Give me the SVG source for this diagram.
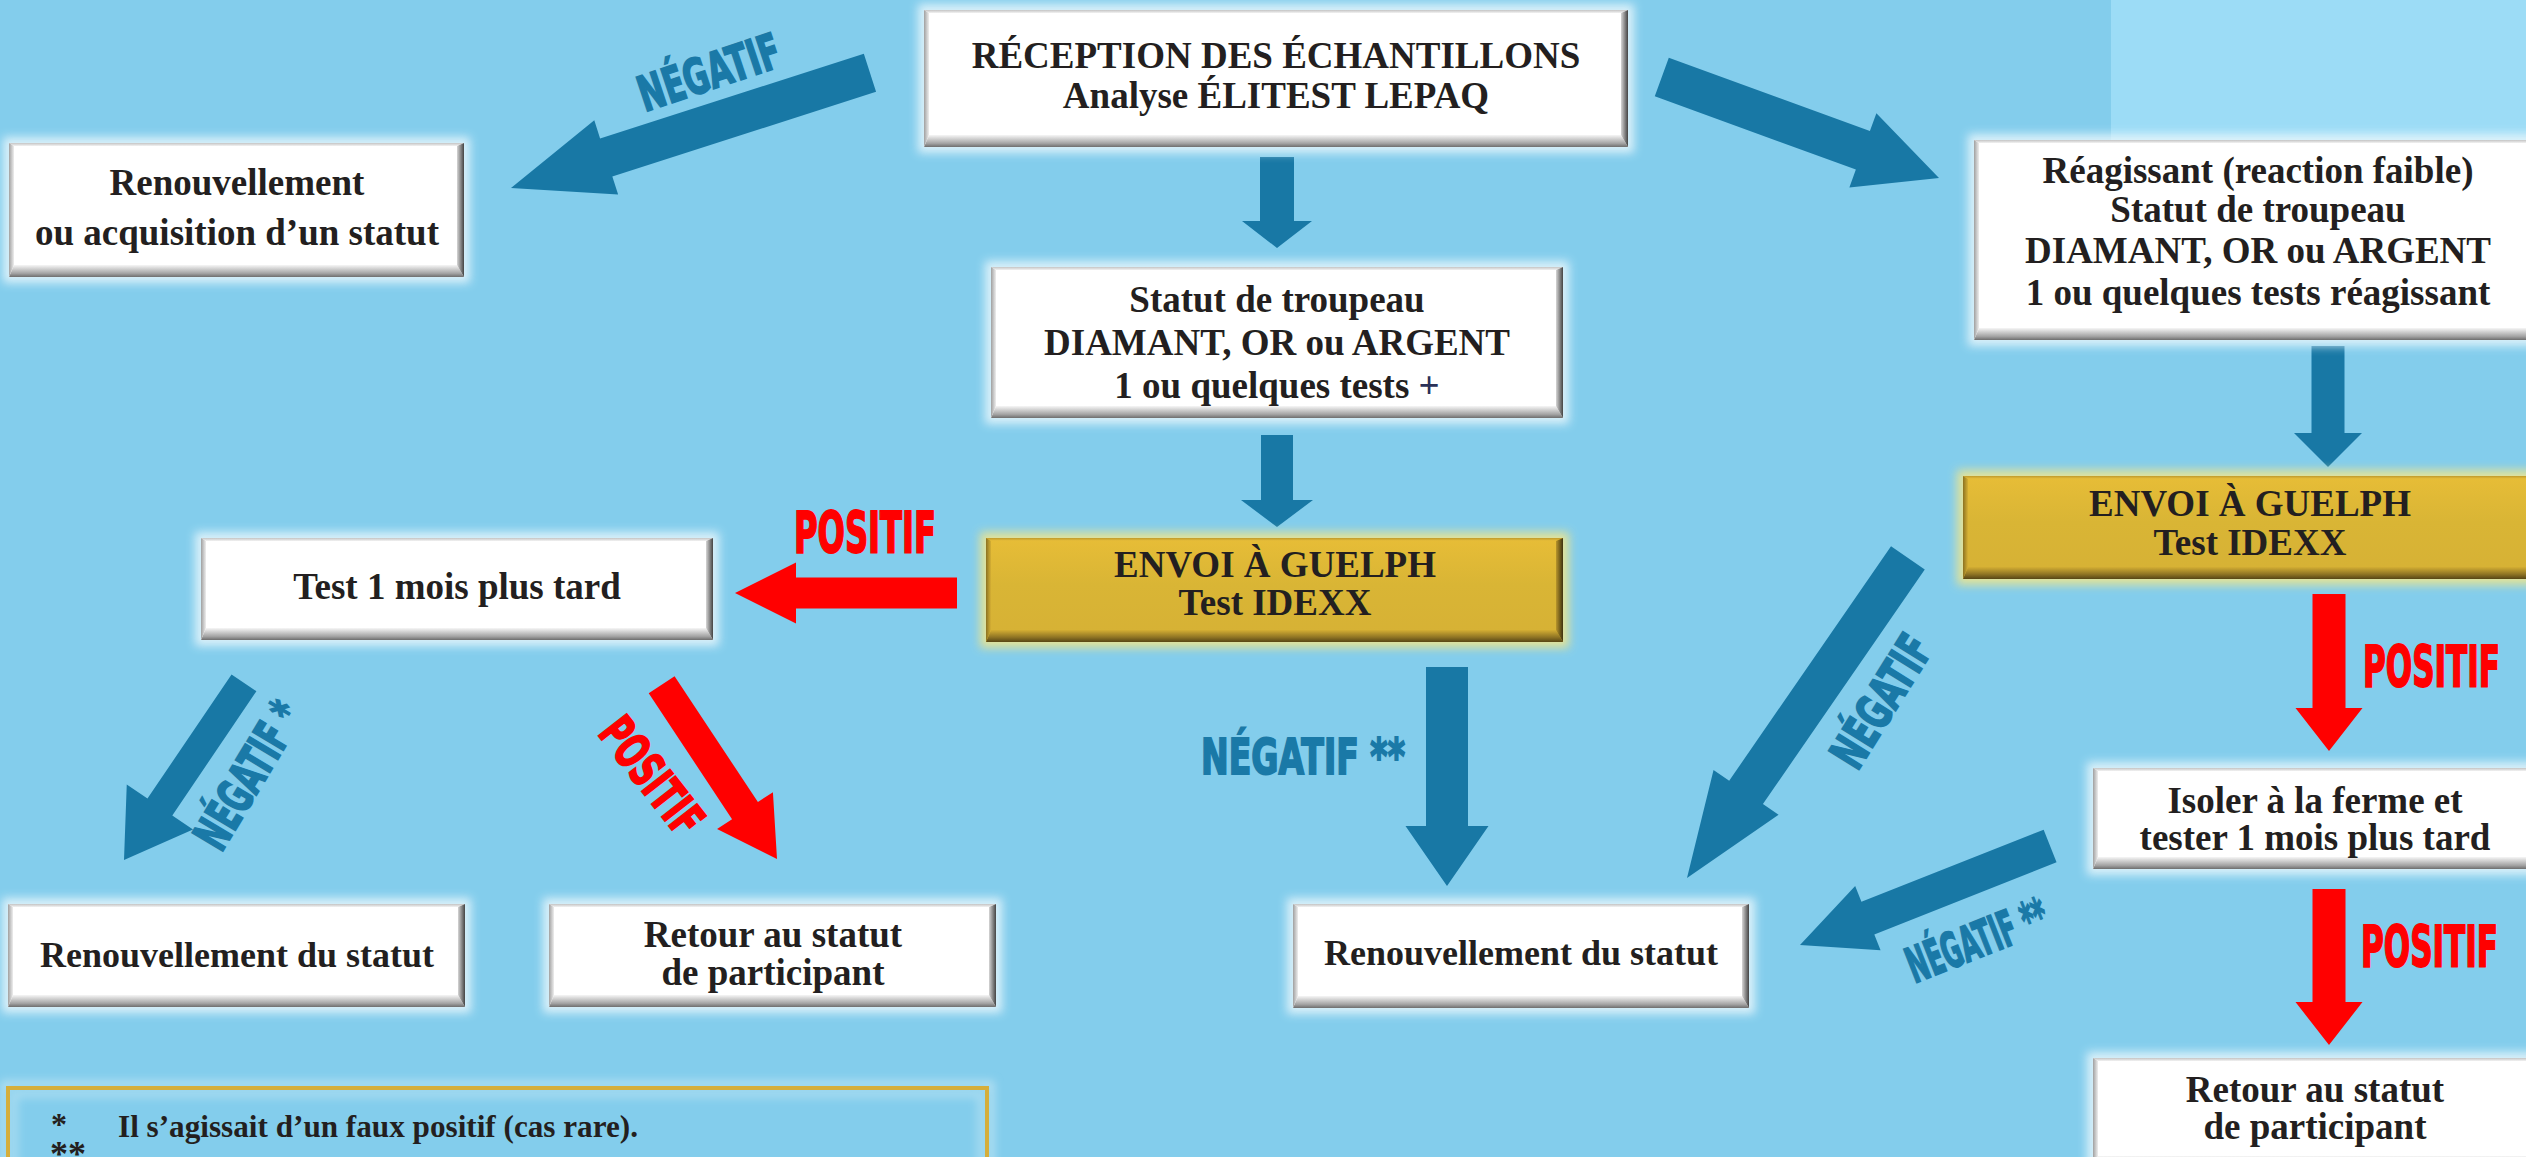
<svg xmlns="http://www.w3.org/2000/svg" width="2526" height="1157" viewBox="0 0 2526 1157">
<defs>
<style>
.t{font-family:"Liberation Serif","Times New Roman",serif;font-weight:bold;font-size:37px;fill:#231f20;text-anchor:middle}
.lbl{font-family:"Liberation Sans Narrow","DejaVu Sans Condensed","Liberation Sans",sans-serif;font-weight:bold;text-anchor:middle}
.neg{fill:#1a79a7;stroke:#1a79a7;stroke-width:1.8}
.pos{fill:#ff0000;stroke:#ff0000;stroke-width:1.8}
.blue{fill:#1878a5}
.red{fill:#ff0000}
.wb{fill:#ffffff}
.gb{fill:url(#goldBase)}
.glw{fill:#eaf7fc;opacity:.85;filter:url(#glow)}
.glg{fill:#eee58e;opacity:.9;filter:url(#glow)}
.bt{fill:url(#wTop)}.bb{fill:url(#wBot)}.bl{fill:url(#wLeft)}.br{fill:url(#wRight)}
.gt{fill:url(#gTop)}.gbt{fill:url(#gBot)}.gl{fill:url(#gLeft)}.gr{fill:url(#gRight)}
.fn{font-family:"Liberation Serif","Times New Roman",serif;font-weight:bold;fill:#231f20}
</style>
<filter id="glow" x="-10%" y="-30%" width="120%" height="160%"><feGaussianBlur stdDeviation="5"/></filter>
<filter id="soft" x="-5%" y="-20%" width="110%" height="140%"><feGaussianBlur stdDeviation="4"/></filter>
<linearGradient id="wTop" x1="0" y1="0" x2="0" y2="1"><stop offset="0" stop-color="#c4c4c4"/><stop offset="1" stop-color="#f2f2f2"/></linearGradient>
<linearGradient id="wBot" x1="0" y1="0" x2="0" y2="1"><stop offset="0" stop-color="#f6f6f6"/><stop offset=".7" stop-color="#a3a3a3"/><stop offset="1" stop-color="#6e6e6e"/></linearGradient>
<linearGradient id="wLeft" x1="0" y1="0" x2="1" y2="0"><stop offset="0" stop-color="#a0a0a0"/><stop offset="1" stop-color="#eeeeee"/></linearGradient>
<linearGradient id="wRight" x1="0" y1="0" x2="1" y2="0"><stop offset="0" stop-color="#d6d6d6"/><stop offset="1" stop-color="#444444"/></linearGradient>
<linearGradient id="goldBase" x1="0" y1="0" x2="0" y2="1"><stop offset="0" stop-color="#e7bd37"/><stop offset=".45" stop-color="#d9b535"/><stop offset="1" stop-color="#d6b135"/></linearGradient>
<linearGradient id="gTop" x1="0" y1="0" x2="0" y2="1"><stop offset="0" stop-color="#c09a2c"/><stop offset="1" stop-color="#e9c03a"/></linearGradient>
<linearGradient id="gBot" x1="0" y1="0" x2="0" y2="1"><stop offset="0" stop-color="#d4ae33"/><stop offset=".6" stop-color="#8f7424"/><stop offset="1" stop-color="#574615"/></linearGradient>
<linearGradient id="gLeft" x1="0" y1="0" x2="1" y2="0"><stop offset="0" stop-color="#8c7221"/><stop offset="1" stop-color="#d6b034"/></linearGradient>
<linearGradient id="gRight" x1="0" y1="0" x2="1" y2="0"><stop offset="0" stop-color="#b8952b"/><stop offset="1" stop-color="#3e3210"/></linearGradient>
</defs>

<rect x="0" y="0" width="2526" height="1157" fill="#83cdec"/>
<rect x="2111" y="0" width="415" height="140" fill="#9cdcf6"/>

<g id="connectors">
<path class="blue" d="M-377,-20H-100V-39L0,0L-100,39V20H-377Z" transform="translate(511,188) rotate(162.2)"/>
<path class="blue" d="M-91,-17H-27V-35L0,0L-27,35V17H-91Z" transform="translate(1277,248) rotate(90)"/>
<path class="blue" d="M-295,-20.5H-81V-39.5L0,0L-81,39.5V20.5H-295Z" transform="translate(1939,178) rotate(20)"/>
<path class="blue" d="M-92,-16H-27V-36L0,0L-27,36V16H-92Z" transform="translate(1277,527) rotate(90)"/>
<path class="red" d="M-222,-15.5H-61V-30.5L0,0L-61,30.5V15.5H-222Z" transform="translate(735,593) rotate(180)"/>
<path class="blue" d="M-219,-21H-60V-41.5L0,0L-60,41.5V21H-219Z" transform="translate(1447,886) rotate(90)"/>
<path class="blue" d="M-214,-15H-64V-40L0,0L-64,40V15H-214Z" transform="translate(124,860) rotate(124.1)"/>
<path class="red" d="M-209,-15.5H-58V-33.5L0,0L-58,33.5V15.5H-209Z" transform="translate(777,859) rotate(56.5)"/>
<path class="blue" d="M-389,-20.5H-104V-39.5L0,0L-104,39.5V20.5H-389Z" transform="translate(1687,878) rotate(124.6)"/>
<path class="blue" d="M-269,-17.5H-73V-34.5L0,0L-73,34.5V17.5H-269Z" transform="translate(1800,945) rotate(158.4)"/>
<path class="red" d="M-157,-16.5H-43V-33.5L0,0L-43,33.5V16.5H-157Z" transform="translate(2329,751) rotate(90)"/>
<path class="red" d="M-156,-16.5H-43V-33.5L0,0L-43,33.5V16.5H-156Z" transform="translate(2329,1045) rotate(90)"/>
<path class="blue" d="M-121,-16.5H-34V-34L0,0L-34,34V16.5H-121Z" transform="translate(2328,467) rotate(90)"/>

<text class="lbl neg" transform="translate(709,72) rotate(-18.5)" x="0" y="17.5" font-size="49" textLength="147" lengthAdjust="spacingAndGlyphs">NÉGATIF</text>
<text class="lbl pos" x="794" y="553" font-size="57" style="text-anchor:start" textLength="142" lengthAdjust="spacingAndGlyphs">POSITIF</text>
<text class="lbl neg" transform="translate(248,775) rotate(-59)" x="0" y="17.5" font-size="49" textLength="162" lengthAdjust="spacingAndGlyphs">NÉGATIF *</text>
<text class="lbl pos" transform="translate(652,776) rotate(52)" x="0" y="17.5" font-size="49" textLength="135" lengthAdjust="spacingAndGlyphs">POSITIF</text>
<text class="lbl neg" x="1201" y="774" font-size="49" style="text-anchor:start" textLength="204" lengthAdjust="spacingAndGlyphs">NÉGATIF **</text>
<text class="lbl neg" transform="translate(1881,701) rotate(-58)" x="0" y="17.5" font-size="49" textLength="146" lengthAdjust="spacingAndGlyphs">NÉGATIF</text>
<text class="lbl neg" transform="translate(1977,940) rotate(-21.5)" x="0" y="17.5" font-size="49" textLength="148" lengthAdjust="spacingAndGlyphs">NÉGATIF **</text>
<text class="lbl pos" x="2500" y="687" font-size="57" style="text-anchor:end" textLength="137" lengthAdjust="spacingAndGlyphs">POSITIF</text>
<text class="lbl pos" x="2498" y="967" font-size="57" style="text-anchor:end" textLength="137" lengthAdjust="spacingAndGlyphs">POSITIF</text>
</g>

<g id="node-reception">
<rect class="glw" x="918" y="4" width="716" height="149"/>
<rect class="wb" x="924" y="10" width="704" height="137"/>
<polygon class="bt" points="924,10 1628,10 1621,13 929,13"/>
<polygon class="bb" points="924,147 1628,147 1621,135 929,135"/>
<polygon class="bl" points="924,10 929,13 929,135 924,147"/>
<polygon class="br" points="1628,10 1621,13 1621,135 1628,147"/>
<text class="t" x="1276" y="68">RÉCEPTION DES ÉCHANTILLONS</text>
<text class="t" x="1276" y="108">Analyse ÉLITEST LEPAQ</text>
</g>

<g id="node-renouvellement-acquisition">
<rect class="glw" x="3" y="137" width="467" height="146"/>
<rect class="wb" x="9" y="143" width="455" height="134"/>
<polygon class="bt" points="9,143 464,143 457,146 14,146"/>
<polygon class="bb" points="9,277 464,277 457,265 14,265"/>
<polygon class="bl" points="9,143 14,146 14,265 9,277"/>
<polygon class="br" points="464,143 457,146 457,265 464,277"/>
<text class="t" x="237" y="195">Renouvellement</text>
<text class="t" x="237" y="245">ou acquisition d’un statut</text>
</g>

<g id="node-statut-plus">
<rect class="glw" x="985" y="261" width="584" height="163"/>
<rect class="wb" x="991" y="267" width="572" height="151"/>
<polygon class="bt" points="991,267 1563,267 1556,270 996,270"/>
<polygon class="bb" points="991,418 1563,418 1556,406 996,406"/>
<polygon class="bl" points="991,267 996,270 996,406 991,418"/>
<polygon class="br" points="1563,267 1556,270 1556,406 1563,418"/>
<text class="t" x="1277" y="312">Statut de troupeau</text>
<text class="t" x="1277" y="355">DIAMANT, OR ou ARGENT</text>
<text class="t" x="1277" y="398">1 ou quelques tests <tspan fill="#2b3158">+</tspan></text>
</g>

<g id="node-reagissant">
<rect class="glw" x="1968" y="134" width="580" height="212"/>
<rect class="wb" x="1974" y="140" width="566" height="200"/>
<polygon class="bt" points="1974,140 2540,140 2533,143 1979,143"/>
<polygon class="bb" points="1974,340 2540,340 2533,328 1979,328"/>
<polygon class="bl" points="1974,140 1979,143 1979,328 1974,340"/>
<text class="t" x="2258" y="183">Réagissant (reaction faible)</text>
<text class="t" x="2258" y="222">Statut de troupeau</text>
<text class="t" x="2258" y="263">DIAMANT, OR ou ARGENT</text>
<text class="t" x="2258" y="305">1 ou quelques tests réagissant</text>
</g>

<g id="node-test-1-mois">
<rect class="glw" x="195" y="532" width="524" height="114"/>
<rect class="wb" x="201" y="538" width="512" height="102"/>
<polygon class="bt" points="201,538 713,538 706,541 206,541"/>
<polygon class="bb" points="201,640 713,640 706,628 206,628"/>
<polygon class="bl" points="201,538 206,541 206,628 201,640"/>
<polygon class="br" points="713,538 706,541 706,628 713,640"/>
<text class="t" x="457" y="599">Test 1 mois plus tard</text>
</g>

<g id="node-guelph-center">
<rect class="glg" x="980" y="532" width="589" height="116"/>
<rect class="gb" x="986" y="538" width="577" height="104"/>
<polygon class="gt" points="986,538 1563,538 1556,541 991,541"/>
<polygon class="gbt" points="986,642 1563,642 1556,630 991,630"/>
<polygon class="gl" points="986,538 991,541 991,630 986,642"/>
<polygon class="gr" points="1563,538 1556,541 1556,630 1563,642"/>
<text class="t" x="1275" y="577">ENVOI À GUELPH</text>
<text class="t" x="1275" y="615">Test IDEXX</text>
</g>

<g id="node-guelph-right">
<rect class="glg" x="1957" y="470" width="586" height="115"/>
<rect class="gb" x="1963" y="476" width="574" height="103"/>
<polygon class="gt" points="1963,476 2537,476 2530,479 1968,479"/>
<polygon class="gbt" points="1963,579 2537,579 2530,567 1968,567"/>
<polygon class="gl" points="1963,476 1968,479 1968,567 1963,579"/>
<text class="t" x="2250" y="516">ENVOI À GUELPH</text>
<text class="t" x="2250" y="555">Test IDEXX</text>
</g>

<g id="node-isoler">
<rect class="glw" x="2087" y="762" width="456" height="113"/>
<rect class="wb" x="2093" y="768" width="444" height="101"/>
<polygon class="bt" points="2093,768 2537,768 2530,771 2098,771"/>
<polygon class="bb" points="2093,869 2537,869 2530,857 2098,857"/>
<polygon class="bl" points="2093,768 2098,771 2098,857 2093,869"/>
<text class="t" x="2315" y="813">Isoler à la ferme et</text>
<text class="t" x="2315" y="850">tester 1 mois plus tard</text>
</g>

<g id="node-retour-right">
<rect class="glw" x="2087" y="1052" width="456" height="122"/>
<rect class="wb" x="2093" y="1058" width="444" height="110"/>
<polygon class="bt" points="2093,1058 2537,1058 2530,1061 2098,1061"/>
<polygon class="bb" points="2093,1168 2537,1168 2530,1156 2098,1156"/>
<polygon class="bl" points="2093,1058 2098,1061 2098,1156 2093,1168"/>
<text class="t" x="2315" y="1102">Retour au statut</text>
<text class="t" x="2315" y="1139">de participant</text>
</g>

<g id="node-renouvellement-left">
<rect class="glw" x="2" y="898" width="469" height="115"/>
<rect class="wb" x="8" y="904" width="457" height="103"/>
<polygon class="bt" points="8,904 465,904 458,907 13,907"/>
<polygon class="bb" points="8,1007 465,1007 458,995 13,995"/>
<polygon class="bl" points="8,904 13,907 13,995 8,1007"/>
<polygon class="br" points="465,904 458,907 458,995 465,1007"/>
<text class="t" x="237" y="967" style="font-size:36px">Renouvellement du statut</text>
</g>

<g id="node-retour-left">
<rect class="glw" x="543" y="898" width="459" height="115"/>
<rect class="wb" x="549" y="904" width="447" height="103"/>
<polygon class="bt" points="549,904 996,904 989,907 554,907"/>
<polygon class="bb" points="549,1007 996,1007 989,995 554,995"/>
<polygon class="bl" points="549,904 554,907 554,995 549,1007"/>
<polygon class="br" points="996,904 989,907 989,995 996,1007"/>
<text class="t" x="773" y="947">Retour au statut</text>
<text class="t" x="773" y="985">de participant</text>
</g>

<g id="node-renouvellement-center">
<rect class="glw" x="1287" y="898" width="468" height="116"/>
<rect class="wb" x="1293" y="904" width="456" height="104"/>
<polygon class="bt" points="1293,904 1749,904 1742,907 1298,907"/>
<polygon class="bb" points="1293,1008 1749,1008 1742,996 1298,996"/>
<polygon class="bl" points="1293,904 1298,907 1298,996 1293,1008"/>
<polygon class="br" points="1749,904 1742,907 1742,996 1749,1008"/>
<text class="t" x="1521" y="965" style="font-size:36px">Renouvellement du statut</text>
</g>

<g id="footnotes">
<rect x="4" y="1084" width="987" height="110" fill="none" stroke="#b9e2f3" stroke-width="6" filter="url(#soft)"/>
<rect x="14" y="1094" width="967" height="90" fill="none" stroke="#a6dbf1" stroke-width="8" filter="url(#soft)"/>
<rect x="8" y="1088" width="979" height="100" fill="none" stroke="#d5ae3b" stroke-width="4"/>
<text class="fn" x="51" y="1135" font-size="32">*</text>
<text class="fn" x="118" y="1137" font-size="31" textLength="520" lengthAdjust="spacingAndGlyphs">Il s’agissait d’un faux positif (cas rare).</text>
<text class="fn" x="50" y="1166" font-size="36">**</text>
</g>
</svg>
